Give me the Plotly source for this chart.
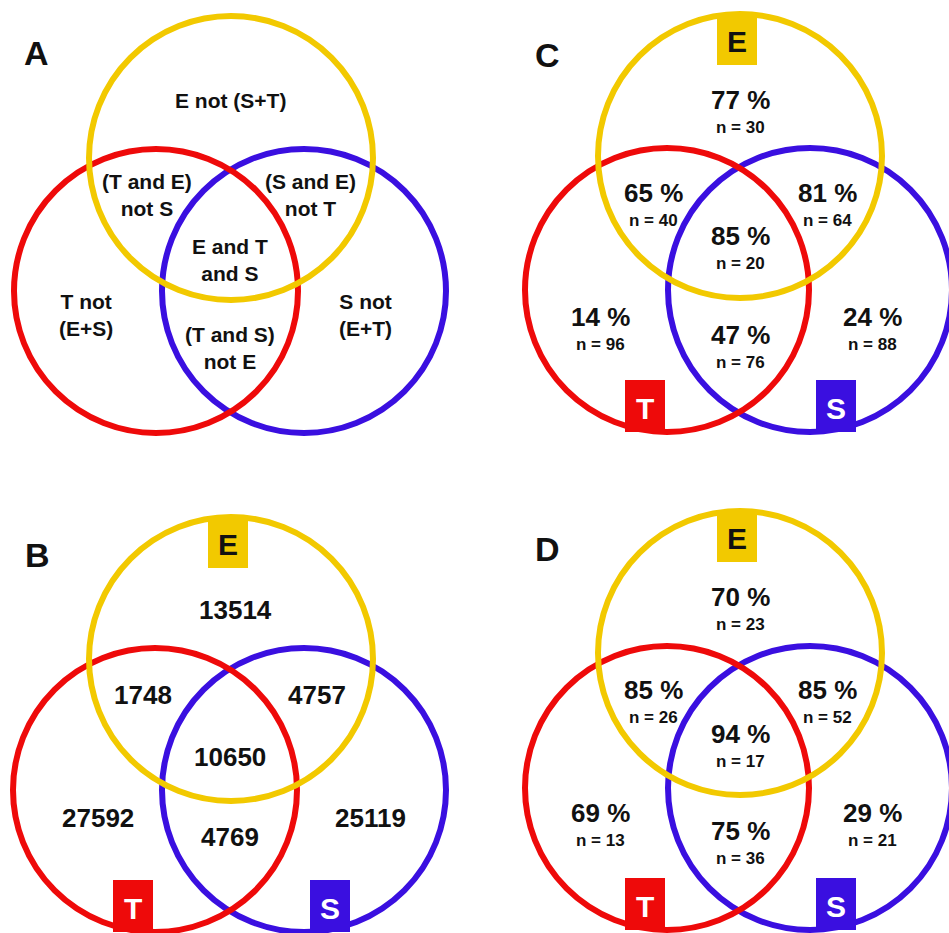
import plotly.graph_objects as go

# ---------------- data ----------------
region_keys = ["E", "TE", "SE", "ETS", "T", "S", "TS"]
region_labels_A = ["E not (S+T)", "(T and E)<br>not S", "(S and E)<br>not T",
                   "E and T<br>and S", "T not<br>(E+S)", "S not<br>(E+T)",
                   "(T and S)<br>not E"]
counts_B = [13514, 1748, 4757, 10650, 27592, 25119, 4769]
pct_C = [77, 65, 81, 85, 14, 24, 47]
n_C = [30, 40, 64, 20, 96, 88, 76]
pct_D = [70, 85, 85, 94, 69, 29, 75]
n_D = [23, 26, 52, 17, 13, 21, 36]
set_names = ["E", "T", "S"]
panel_letters = ["A", "B", "C", "D"]

# ---------------- layout constants ----------------
W, H = 949, 933
YELLOW = "#F2C900"
RED = "#EE0A0A"
BLUE = "#3A0FE0"
FONT = "Liberation Sans, Arial, Helvetica, sans-serif"
R = 142
LW = 6

panels = {
    "A": dict(Y=(231, 158), T=(156, 291), S=(304, 291), boxes=False, letter=(36, 53)),
    "B": dict(Y=(231, 659), T=(155, 790), S=(304, 790), boxes=True, letter=(37, 555)),
    "C": dict(Y=(740, 156), T=(667, 290), S=(810, 290), boxes=True, letter=(547, 55)),
    "D": dict(Y=(740, 653), T=(667, 788), S=(810, 788), boxes=True, letter=(547, 549)),
}

pos_A = [(230, 100), (147, 195), (310, 195), (230, 260), (86, 315), (365, 315), (230, 348)]
pos_B = [(235, 610), (143, 695), (317, 695), (230, 757), (98, 818), (370, 818), (230, 837)]
pos_C = [(740, 100), (653, 193), (827, 193), (740, 236), (600, 317), (872, 317), (740, 335)]
pos_D = [(740, 597), (653, 690), (827, 690), (740, 734), (600, 813), (872, 813), (740, 831)]
N_DY = 27

fig = go.Figure()
# invisible trace to establish axes
fig.add_trace(go.Scatter(x=[0, W], y=[0, H], mode="markers",
                         marker=dict(opacity=0), hoverinfo="skip", showlegend=False))

shapes = []
annotations = []

for key, p in panels.items():
    # circles: blue, red, yellow (yellow on top)
    for (cx, cy), col in [(p["S"], BLUE), (p["T"], RED), (p["Y"], YELLOW)]:
        shapes.append(dict(type="circle", xref="x", yref="y",
                           x0=cx - R, x1=cx + R, y0=cy - R, y1=cy + R,
                           line=dict(color=col, width=LW), fillcolor="rgba(0,0,0,0)",
                           layer="above"))
    if p["boxes"]:
        yx, yy = p["Y"]
        tx, ty = p["T"]
        sx, sy = p["S"]
        box_defs = [
            (set_names[0], yx - 3, yy - R + 25, YELLOW, "#111111"),
            (set_names[1], tx - 22, ty + R - 26, RED, "white"),
            (set_names[2], sx + 26, sy + R - 26, BLUE, "white"),
        ]
        for name, bx, by, col, tcol in box_defs:
            shapes.append(dict(type="rect", xref="x", yref="y",
                               x0=bx - 20, x1=bx + 20, y0=by - 26, y1=by + 26,
                               fillcolor=col, line=dict(width=0), layer="above"))
            annotations.append(dict(x=bx, y=by + 2, xref="x", yref="y", text=name,
                                    showarrow=False,
                                    font=dict(family=FONT, size=30, color=tcol, weight="bold")))
    lx, ly = p["letter"]
    annotations.append(dict(x=lx, y=ly, xref="x", yref="y", text=key, showarrow=False,
                            font=dict(family=FONT, size=34, color="#111111", weight="bold")))

# Panel A texts
for (x, y), lab in zip(pos_A, region_labels_A):
    annotations.append(dict(x=x, y=y, xref="x", yref="y", text=lab, showarrow=False,
                            font=dict(family=FONT, size=21, color="#111111", weight="bold")))
# Panel B counts
for (x, y), v in zip(pos_B, counts_B):
    annotations.append(dict(x=x, y=y, xref="x", yref="y", text=str(v), showarrow=False,
                            font=dict(family=FONT, size=26, color="#111111", weight="bold")))
# Panels C & D percentages
for pos, pcts, ns in [(pos_C, pct_C, n_C), (pos_D, pct_D, n_D)]:
    for (x, y), pc, n in zip(pos, pcts, ns):
        annotations.append(dict(x=x, y=y, xref="x", yref="y", text=f"{pc} %", showarrow=False,
                                font=dict(family=FONT, size=26, color="#111111", weight="bold")))
        annotations.append(dict(x=x, y=y + N_DY, xref="x", yref="y", text=f"n = {n}",
                                showarrow=False,
                                font=dict(family=FONT, size=17, color="#111111", weight="bold")))

fig.update_layout(
    width=W, height=H,
    margin=dict(l=0, r=0, t=0, b=0),
    paper_bgcolor="white", plot_bgcolor="white",
    xaxis=dict(range=[0, W], visible=False, fixedrange=True),
    yaxis=dict(range=[H, 0], visible=False, fixedrange=True),
    shapes=shapes, annotations=annotations, showlegend=False,
)

fig.write_html("out.html", config={"displayModeBar": False},
               post_script="document.body.style.margin='0px';document.body.style.overflow='hidden';")
